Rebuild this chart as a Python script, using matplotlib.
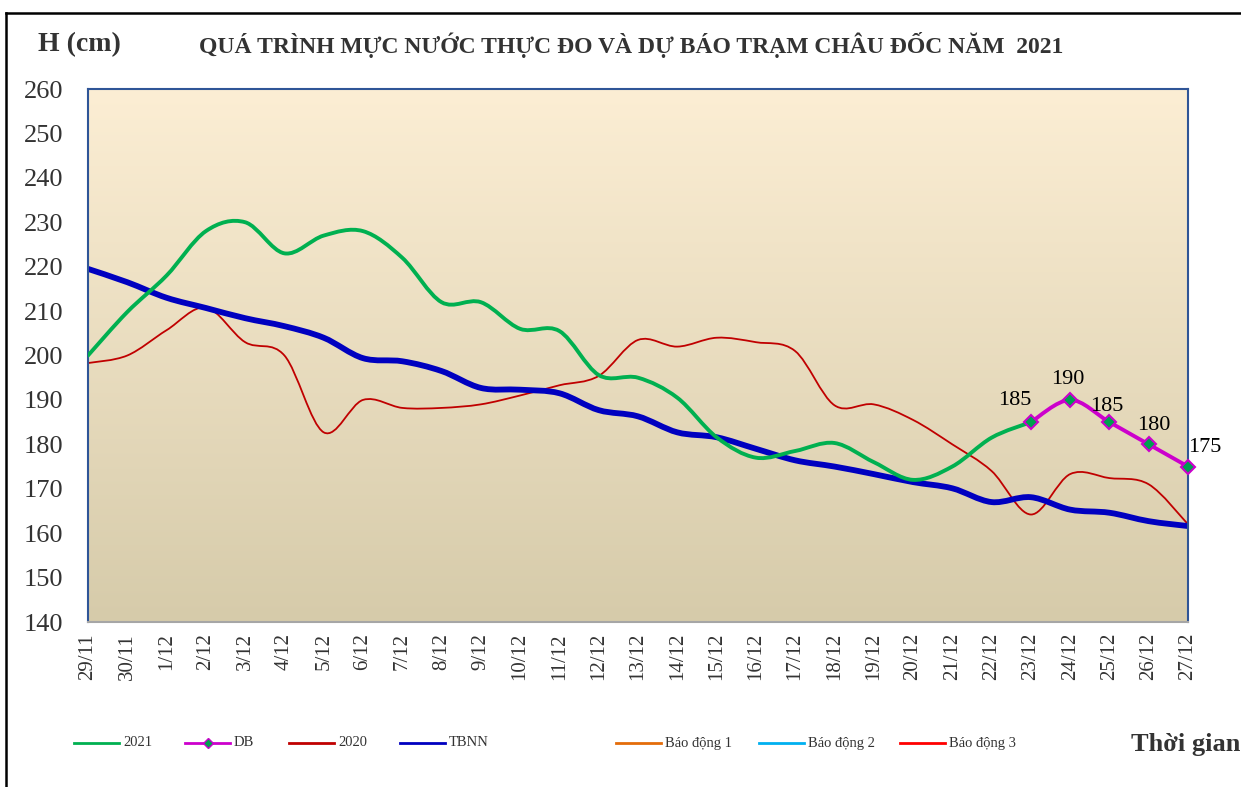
import numpy as np
import matplotlib
matplotlib.use("Agg")
import matplotlib.pyplot as plt
from matplotlib.path import Path
from matplotlib.patches import PathPatch
from matplotlib.lines import Line2D

dates = ["29/11", "30/11", "1/12", "2/12", "3/12", "4/12", "5/12", "6/12", "7/12", "8/12",
         "9/12", "10/12", "11/12", "12/12", "13/12", "14/12", "15/12", "16/12", "17/12",
         "18/12", "19/12", "20/12", "21/12", "22/12", "23/12", "24/12", "25/12", "26/12", "27/12"]

y2021 = [200, 209.8, 218, 228, 230, 223, 227, 228, 222, 212, 212, 206, 205.5, 195.6, 195,
         190.5, 181.6, 177, 178.5, 180.3, 176, 172, 175, 181.5, 185]
db_dates = ["23/12", "24/12", "25/12", "26/12", "27/12"]
db = [185, 190, 185, 180, 175]
y2020 = [198.3, 200, 205.7, 210.8, 203, 200, 182.7, 190, 188.2, 188.2, 189, 191, 193.3, 195.4,
         203.5, 202, 204, 203, 201, 188.8, 189, 185.5, 180, 174, 164.2, 173.3, 172.4, 171, 162]
tbnn = [219.5, 216.5, 213, 210.7, 208.4, 206.6, 204, 199.4, 198.7, 196.5, 192.7, 192.3, 191.5,
        187.7, 186.3, 182.7, 181.6, 179, 176.4, 175, 173.3, 171.5, 170.1, 167, 168.1, 165.3,
        164.6, 162.7, 161.6]

legend_labels = ["2021", "DB", "2020", "TBNN", "Báo động 1", "Báo động 2", "Báo động 3"]

SERIF = ["Liberation Serif", "DejaVu Serif"]
W, H = 1241, 787

fig = plt.figure(figsize=(W / 100, H / 100), dpi=100)
ax = fig.add_axes([88 / W, 1 - 622 / H, 1100 / W, 533 / H])

n = len(dates)
x_all = np.arange(n)
ax.set_xlim(0, n - 1)
ax.set_ylim(140, 260)

# gradient background
grad = np.linspace(0, 1, 256).reshape(-1, 1)
top = np.array([252, 238, 212]) / 255
bot = np.array([214, 203, 170]) / 255
img = top[None, None, :] * (1 - grad[:, :, None]) + bot[None, None, :] * grad[:, :, None]
ax.imshow(img, extent=[0, 1, 0, 1], transform=ax.transAxes, aspect="auto", zorder=0)


def smooth_path(xs, ys):
    xs = np.asarray(xs, float)
    ys = np.asarray(ys, float)
    pts = np.column_stack([xs, ys])
    verts = [pts[0]]
    codes = [Path.MOVETO]
    m = len(pts)
    for i in range(m - 1):
        p0 = pts[i - 1] if i > 0 else pts[i]
        p1 = pts[i]
        p2 = pts[i + 1]
        p3 = pts[i + 2] if i + 2 < m else pts[i + 1]
        c1 = p1 + (p2 - p0) / 6.0
        c2 = p2 - (p3 - p1) / 6.0
        verts += [c1, c2, p2]
        codes += [Path.CURVE4] * 3
    return Path(verts, codes)


def draw(xs, ys, color, lw, z):
    ax.add_patch(PathPatch(smooth_path(xs, ys), fill=False, edgecolor=color, lw=lw,
                           zorder=z, capstyle="round", joinstyle="round"))


C2021 = "#00B050"
CDB = "#CC00CC"
C2020 = "#C00000"
CTBNN = "#0000C0"
legend_colors = [C2021, CDB, C2020, CTBNN, "#E46C0A", "#00B0F0", "#FF0000"]

draw(x_all[:len(y2021)], y2021, C2021, 2.8, 3)
draw(x_all, y2020, C2020, 1.3, 2)
draw(x_all, tbnn, CTBNN, 4.2, 2.5)
db_x = [dates.index(d) for d in db_dates]
draw(db_x, db, CDB, 2.8, 4)
ax.plot(db_x, db, linestyle="none", marker="D", markersize=7, markerfacecolor="#00A050",
        markeredgecolor=CDB, markeredgewidth=1.5, zorder=5, clip_on=False)

offsets = [(-11.7, 15.7), (-1.7, 14.5), (-2, 11.5), (4, 13.7), (12, 13.8)]
for xx, yy, (dx, dy) in zip(db_x, db, offsets):
    ax.annotate(f"{yy}", (xx, yy), xytext=(dx, dy), textcoords="offset points",
                ha="center", va="center", fontsize=16, family=SERIF, color="black", zorder=6)

ax.set_xticks(x_all)
ax.set_xticklabels(dates, rotation=90, fontsize=15, family=SERIF, color="#333333")
ax.set_yticks(np.arange(140, 261, 10))
ax.set_yticklabels([str(v) for v in range(140, 261, 10)], fontsize=19, family=SERIF,
                   color="#333333")
ax.tick_params(axis="x", length=0, pad=8)
ax.tick_params(axis="y", length=0, pad=18)
for s in ["left", "top", "right"]:
    ax.spines[s].set_color("#2F5597")
    ax.spines[s].set_linewidth(1.5)
ax.spines["bottom"].set_color("#A6A6A6")
ax.spines["bottom"].set_linewidth(1.5)

fig.text(38 / W, 1 - 45 / H, "H (cm)", fontsize=20, fontweight="bold", family=SERIF,
         color="#333333", va="center", ha="left")
fig.text(631 / W, 1 - 45 / H, "QUÁ TRÌNH MỰC NƯỚC THỰC ĐO VÀ DỰ BÁO TRẠM CHÂU ĐỐC NĂM  2021",
         fontsize=17, fontweight="bold", family=SERIF, color="#333333", va="center",
         ha="center")
fig.text(1240 / W, 1 - 744 / H, "Thời gian", fontsize=19, fontweight="bold", family=SERIF,
         color="#333333", va="center", ha="right")

# legend drawn manually at reference positions
leg_x = [74, 185, 289, 400, 616, 759, 900]
leg_y = 1 - 743 / H
for lx, lab, col in zip(leg_x, legend_labels, legend_colors):
    fig.add_artist(Line2D([lx / W, (lx + 45) / W], [leg_y, leg_y], transform=fig.transFigure,
                          color=col, lw=2))
    if lab == "DB":
        fig.add_artist(Line2D([(lx + 22.5) / W], [leg_y], transform=fig.transFigure,
                              marker="D", markersize=5, markerfacecolor="#00A050",
                              markeredgecolor=CDB, linestyle="none"))
    fig.text((lx + 49) / W, leg_y, lab, fontsize=10.5, family=SERIF, color="#333333",
             va="center", ha="left")

# figure border (top and left)
fig.add_artist(Line2D([6 / W, 6 / W], [0, 1 - 13 / H], transform=fig.transFigure,
                      color="black", lw=1.8))
fig.add_artist(Line2D([6 / W, 1], [1 - 13 / H, 1 - 13 / H], transform=fig.transFigure,
                      color="black", lw=1.8))

fig.savefig("out.png", dpi=100, facecolor="white")
